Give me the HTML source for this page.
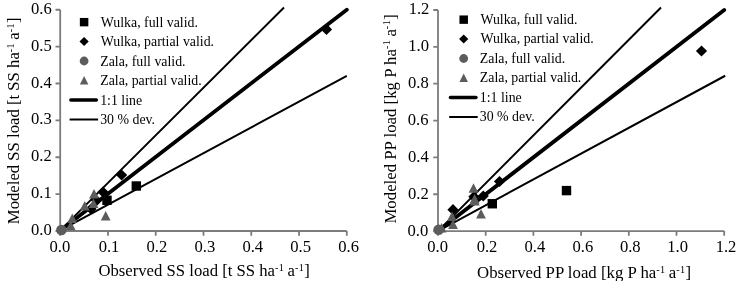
<!DOCTYPE html>
<html><head><meta charset="utf-8"><title>Modeled vs observed loads</title>
<style>
html,body{margin:0;padding:0;background:#fff}
svg{display:block;font-family:"Liberation Serif",serif;fill:#000}
</style></head><body>
<svg width="736" height="281" viewBox="0 0 736 281">
<rect width="736" height="281" fill="#fff"/>
<g stroke="#7c7c7c" stroke-width="1.8" fill="none">
<path d="M60.2 9.75V231H346.8"/>
<path d="M60.2 231v4.7M60.2 231h-4.7M107.97 231v4.7M60.2 194.12h-4.7M155.73 231v4.7M60.2 157.25h-4.7M203.5 231v4.7M60.2 120.37h-4.7M251.27 231v4.7M60.2 83.5h-4.7M299.03 231v4.7M60.2 46.62h-4.7M346.8 231v4.7M60.2 9.75h-4.7"/></g>
<g font-size="16.6">
<g text-anchor="middle">
<text x="59.9" y="252.0">0.0</text>
<text x="109.02" y="252.0">0.1</text>
<text x="156.93" y="252.0">0.2</text>
<text x="204.85" y="252.0">0.3</text>
<text x="252.77" y="252.0">0.4</text>
<text x="300.68" y="252.0">0.5</text>
<text x="348.6" y="252.0">0.6</text>
</g><g text-anchor="end">
<text x="51.7" y="235">0.0</text>
<text x="51.7" y="198.12">0.1</text>
<text x="51.7" y="161.25">0.2</text>
<text x="51.7" y="124.37">0.3</text>
<text x="51.7" y="87.5">0.4</text>
<text x="51.7" y="50.62">0.5</text>
<text x="51.7" y="13.75">0.6</text>
</g></g>
<rect x="131.6" y="181.3" width="9.4" height="9.4"/>
<rect x="102.3" y="195.6" width="9.4" height="9.4"/>
<path d="M326.5 23.8l5.6 5.6l-5.6 5.6l-5.6 -5.6z"/>
<path d="M121.6 169.4l5.6 5.6l-5.6 5.6l-5.6 -5.6z"/>
<path d="M103 186.4l5.6 5.6l-5.6 5.6l-5.6 -5.6z"/>
<path d="M96.6 195l5.6 5.6l-5.6 5.6l-5.6 -5.6z"/>
<path d="M91 203.4l5.6 5.6l-5.6 5.6l-5.6 -5.6z"/>
<path d="M60.3 230.4L346.8 9.75" stroke="#000" stroke-width="3.8" stroke-linecap="round"/>
<path d="M60.3 230.4L284 7.5M60.3 230.4L346.8 75.9" stroke="#000" stroke-width="2" fill="none"/>
<g fill="#5c5c5c">
<circle cx="61.4" cy="230.05" r="5.3"/>
<path d="M94 189l4.9 9.6h-9.8z"/>
<path d="M93.5 198.5l4.9 9.6h-9.8z"/>
<path d="M84.75 201l4.9 9.6h-9.8z"/>
<path d="M105.7 211l4.9 9.6h-9.8z"/>
<path d="M72.25 213.5l4.9 9.6h-9.8z"/>
<path d="M70.7 220.7l4.9 9.6h-9.8z"/>
</g>
<rect x="79.85" y="17.95" width="8.5" height="8.4"/>
<path d="M84.1 36.9l4.6 4.6l-4.6 4.6l-4.6 -4.6z"/>
<circle cx="84.1" cy="61" r="4.4" fill="#5c5c5c"/>
<path d="M84.1 76l4.25 8.6h-8.5z" fill="#5c5c5c"/>
<path d="M70.9 100h25.4" stroke="#000" stroke-width="3.6" stroke-linecap="round"/>
<path d="M69.6 119.5h28.5" stroke="#000" stroke-width="2"/>
<g font-size="13.85">
<text x="100.8" y="26.6">Wulka, full valid.</text>
<text x="100.8" y="46.1">Wulka, partial valid.</text>
<text x="100.2" y="65.6">Zala, full valid.</text>
<text x="100.2" y="85.1">Zala, partial valid.</text>
<text x="100.2" y="104.6">1:1 line</text>
<text x="100.2" y="124.1">30 % dev.</text>
</g>
<g stroke="#7c7c7c" stroke-width="1.8" fill="none">
<path d="M438 10V231.1H724.2"/>
<path d="M438 231.1v4.7M438 231.1h-4.7M485.7 231.1v4.7M438 194.25h-4.7M533.4 231.1v4.7M438 157.4h-4.7M581.1 231.1v4.7M438 120.55h-4.7M628.8 231.1v4.7M438 83.7h-4.7M676.5 231.1v4.7M438 46.85h-4.7M724.2 231.1v4.7M438 10h-4.7"/></g>
<g font-size="16.6">
<g text-anchor="middle">
<text x="437.6" y="252.2">0.0</text>
<text x="487.05" y="252.2">0.2</text>
<text x="534.9" y="252.2">0.4</text>
<text x="582.85" y="252.2">0.6</text>
<text x="630.3" y="252.2">0.8</text>
<text x="677.7" y="252.2">1.0</text>
<text x="726" y="252.2">1.2</text>
</g><g text-anchor="end">
<text x="428.2" y="235.86">0.0</text>
<text x="428.8" y="198.9">0.2</text>
<text x="428.7" y="161.94">0.4</text>
<text x="428.5" y="124.98">0.6</text>
<text x="428.7" y="88.02">0.8</text>
<text x="429" y="51.06">1.0</text>
<text x="429.4" y="14.1">1.2</text>
</g></g>
<rect x="561.8" y="185.9" width="9.4" height="9.4"/>
<rect x="487.6" y="199.05" width="9.4" height="9.4"/>
<path d="M701.5 45.4l5.6 5.6l-5.6 5.6l-5.6 -5.6z"/>
<path d="M499.5 175.9l5.6 5.6l-5.6 5.6l-5.6 -5.6z"/>
<path d="M483.25 190.4l5.6 5.6l-5.6 5.6l-5.6 -5.6z"/>
<path d="M453 204.1l5.6 5.6l-5.6 5.6l-5.6 -5.6z"/>
<path d="M473.9 191.1l5.6 5.6l-5.6 5.6l-5.6 -5.6z"/>
<path d="M438 231.1L724.2 10" stroke="#000" stroke-width="3.8" stroke-linecap="round"/>
<path d="M438 231.1L661 7.5M438 231.1L725.2 75.75" stroke="#000" stroke-width="2" fill="none"/>
<g fill="#5c5c5c">
<path d="M441.6 222.9l4.9 9.6h-9.8z"/>
<circle cx="438.6" cy="229.75" r="5.3"/>
<path d="M473.5 183.2l4.9 9.6h-9.8z"/>
<path d="M474.6 194l4.9 9.6h-9.8z"/>
<path d="M474.8 195.9l4.9 9.6h-9.8z"/>
<path d="M481 209l4.9 9.6h-9.8z"/>
<path d="M452 211.5l4.9 9.6h-9.8z"/>
<path d="M453 219.5l4.9 9.6h-9.8z"/>
</g>
<rect x="459.45" y="15.45" width="8.5" height="8.4"/>
<path d="M463.7 34.4l4.6 4.6l-4.6 4.6l-4.6 -4.6z"/>
<circle cx="463.7" cy="58.5" r="4.4" fill="#5c5c5c"/>
<path d="M463.7 73.5l4.25 8.6h-8.5z" fill="#5c5c5c"/>
<path d="M450.5 97.5h25.4" stroke="#000" stroke-width="3.6" stroke-linecap="round"/>
<path d="M449.2 117h28.5" stroke="#000" stroke-width="2"/>
<g font-size="13.85">
<text x="480.4" y="23.6">Wulka, full valid.</text>
<text x="480.4" y="43.1">Wulka, partial valid.</text>
<text x="479.8" y="62.6">Zala, full valid.</text>
<text x="479.8" y="82.1">Zala, partial valid.</text>
<text x="479.8" y="101.6">1:1 line</text>
<text x="479.8" y="121.1">30 % dev.</text>
</g>
<g font-size="16.7" text-anchor="middle">
<text x="204.1" y="276">Observed SS load [t SS ha<tspan font-size="10.2" dy="-4.7" letter-spacing="0.4">-1</tspan><tspan dy="4.7" dx="-1"> a</tspan><tspan font-size="10.2" dy="-4.7" letter-spacing="0.4">-1</tspan><tspan dy="4.7">]</tspan></text>
<text x="584.1" y="277.8" font-size="16.8">Observed PP load [kg P ha<tspan font-size="10.2" dy="-4.7" letter-spacing="0.4">-1</tspan><tspan dy="4.7" dx="-1"> a</tspan><tspan font-size="10.2" dy="-4.7" letter-spacing="0.4">-1</tspan><tspan dy="4.7">]</tspan></text>
<text transform="translate(19.3 120.8) rotate(-90)">Modeled SS load [t SS ha<tspan font-size="10.2" dy="-5.5" letter-spacing="0.4">-1</tspan><tspan dy="5.5" dx="-1"> a</tspan><tspan font-size="10.2" dy="-5.5" letter-spacing="0.4">-1</tspan><tspan dy="5.5">]</tspan></text>
<text transform="translate(395.9 118.9) rotate(-90)" font-size="16.8">Modeled PP load [kg P ha<tspan font-size="10.2" dy="-5.5" letter-spacing="0.4">-1</tspan><tspan dy="5.5" dx="-1"> a</tspan><tspan font-size="10.2" dy="-5.5" letter-spacing="0.4">-1</tspan><tspan dy="5.5">]</tspan></text>
</g>
</svg>
</body></html>
